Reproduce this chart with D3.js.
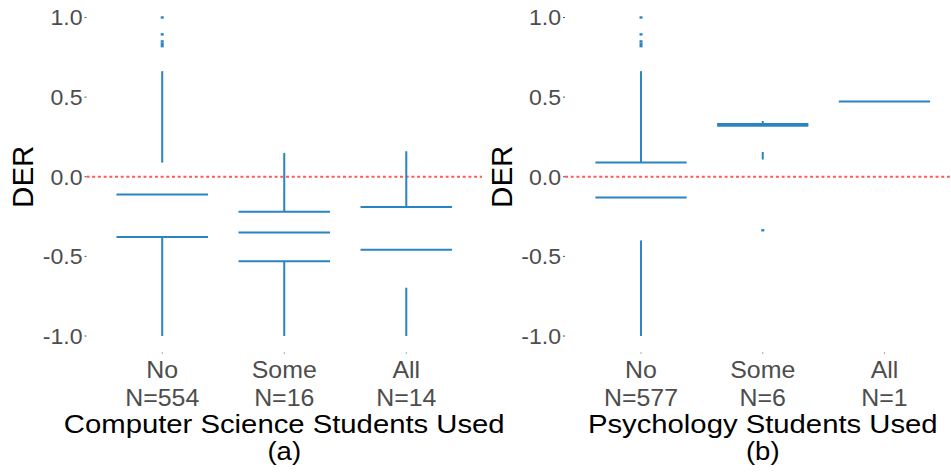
<!DOCTYPE html>
<html><head><meta charset="utf-8">
<script src="https://cdn.jsdelivr.net/npm/d3@7"></script>
<style>body{margin:0;background:#fff}svg{display:block}</style>
</head><body>
<script>
// ---- data ----
const categories = ["No", "Some", "All"];
const countsA = ["N=554", "N=16", "N=14"];
const countsB = ["N=577", "N=6", "N=1"];
const yTicks = [-1.0, -0.5, 0.0, 0.5, 1.0];
const titleA = "Computer Science Students Used";
const titleB = "Psychology Students Used";
// visible horizontal box lines per category
const hLinesA = [[-0.112, -0.379], [-0.22, -0.35, -0.53], [-0.19, -0.458]];
const hLinesB = [[0.09, -0.13], [0.332, 0.32], [0.473]];
// visible vertical whisker segments per category [from, to]
const vSegsA = [[[0.663, 0.089], [-0.379, -1.0]], [[0.15, -0.22], [-0.53, -1.0]], [[0.16, -0.19], [-0.697, -1.0]]];
const vSegsB = [[[0.663, 0.09], [-0.4, -1.0]], [[0.35, 0.332], [0.156, 0.108]], []];
// outliers per category
const outliersA = [[1.0, 0.894, 0.85, 0.835, 0.82], [], []];
const outliersB = [[1.0, 0.894, 0.85, 0.835, 0.82], [-0.336], []];

const W = 951, H = 472;
const blue = "#2a84c2";
const svg = d3.select("body").append("svg").attr("width", W).attr("height", H);
const font = "Liberation Sans, Arial, sans-serif";

function txt(g, x, y, s, size, sx, fill, anchor, dy) {
  g.append("text").attr("transform", `translate(${x},${y}) scale(${sx},1)`)
    .attr("dy", dy || 0).attr("text-anchor", anchor).attr("font-family", font)
    .attr("font-size", size).attr("fill", fill).text(s);
}

function panel(opts) {
  const {x0, x1, counts, hLines, vSegs, outliers, title, sub, labelX, derX, dashEnd} = opts;
  const y = d3.scaleLinear().domain([-1, 1]).range([336, 17.5]);
  const x = d3.scaleBand().domain(categories).range([x0, x1]).paddingOuter(0.1).paddingInner(0);
  const g = svg.append("g");
  const cx = c => x(c) + x.bandwidth() / 2;
  const bw = x.bandwidth() * 0.75;

  yTicks.forEach(t => {
    txt(g, labelX, y(t), t.toFixed(1), 22, 1.05, "#4d4d4d", "end", "0.36em");
    g.append("line").attr("x1", labelX + 2).attr("x2", labelX + 4).attr("y1", y(t)).attr("y2", y(t))
      .attr("stroke", "#555").attr("stroke-width", 1);
  });
  g.append("line").attr("x1", labelX + 4).attr("x2", dashEnd).attr("y1", y(0)).attr("y2", y(0))
    .attr("stroke", "#ff5a5a").attr("stroke-width", 2).attr("stroke-dasharray", "3,2.7");

  categories.forEach((c, i) => {
    const xc = cx(c);
    vSegs[i].forEach(s => {
      g.append("line").attr("x1", xc).attr("x2", xc).attr("y1", y(s[0])).attr("y2", y(s[1]))
        .attr("stroke", blue).attr("stroke-width", 2);
    });
    hLines[i].forEach(v => {
      g.append("line").attr("x1", xc - bw / 2).attr("x2", xc + bw / 2).attr("y1", y(v)).attr("y2", y(v))
        .attr("stroke", blue).attr("stroke-width", 2);
    });
    outliers[i].forEach(v => {
      g.append("rect").attr("x", xc - 1.5).attr("y", y(v) - 1.2).attr("width", 3).attr("height", 2.4)
        .attr("fill", blue);
    });
    g.append("rect").attr("x", xc - 0.5).attr("y", 352.5).attr("width", 1).attr("height", 1).attr("fill", "#555");
    txt(g, xc, 377.5, c, 23.3, 1.07, "#4d4d4d", "middle");
    txt(g, xc, 405.5, counts[i], 23.3, 1.07, "#4d4d4d", "middle");
  });

  const mid = cx("Some");
  txt(g, mid, 432.5, title, 26.5, 1.105, "#000", "middle");
  txt(g, mid, 459.5, sub, 25.5, 1.08, "#000", "middle");
  g.append("text").attr("transform", `translate(${derX},${y(0)}) rotate(-90)`)
    .attr("text-anchor", "middle").attr("font-family", font).attr("font-size", 29.5)
    .attr("fill", "#000").text("DER");
}

panel({x0: 89, x1: 479.5, counts: countsA, hLines: hLinesA, vSegs: vSegsA, outliers: outliersA,
  title: titleA, sub: "(a)", labelX: 82.5, derX: 33, dashEnd: 482});
panel({x0: 568, x1: 957.5, counts: countsB, hLines: hLinesB, vSegs: vSegsB, outliers: outliersB,
  title: titleB, sub: "(b)", labelX: 561, derX: 512, dashEnd: 951});
</script>
</body></html>
